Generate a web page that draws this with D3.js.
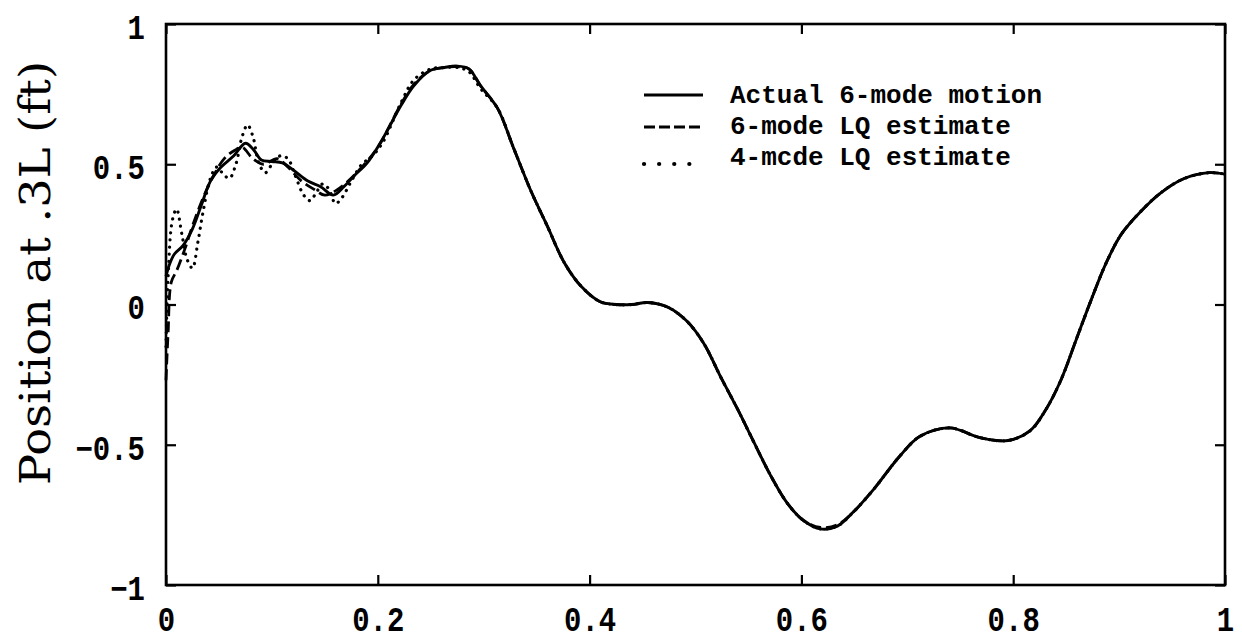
<!DOCTYPE html>
<html>
<head>
<meta charset="utf-8">
<script src="https://cdn.jsdelivr.net/npm/d3@7"></script>
<style>
  html, body { margin: 0; padding: 0; background: #fff; }
  svg { display: block; }
</style>
</head>
<body>
<svg id="chart" width="1242" height="641"></svg>
<script>
// Time axis (normalized) and beam position at .3L for the actual motion
const tActual = [0, 0.003, 0.008, 0.016, 0.025, 0.033, 0.042, 0.052, 0.064, 0.075, 0.083, 0.09, 0.1, 0.11, 0.12, 0.134, 0.146, 0.158, 0.168, 0.178, 0.19, 0.203, 0.222, 0.234, 0.25, 0.263, 0.275, 0.286, 0.297, 0.313, 0.328, 0.344, 0.36, 0.376, 0.392, 0.41, 0.425, 0.44, 0.455, 0.474, 0.492, 0.508, 0.524, 0.54, 0.555, 0.571, 0.587, 0.602, 0.618, 0.634, 0.649, 0.668, 0.693, 0.712, 0.74, 0.769, 0.795, 0.816, 0.83, 0.845, 0.86, 0.874, 0.888, 0.902, 0.92, 0.94, 0.962, 0.985, 1.0];
const vActual = [0.10, 0.14, 0.18, 0.21, 0.27, 0.35, 0.44, 0.49, 0.53, 0.575, 0.55, 0.515, 0.51, 0.505, 0.48, 0.44, 0.42, 0.39, 0.42, 0.46, 0.505, 0.58, 0.71, 0.78, 0.835, 0.845, 0.85, 0.84, 0.78, 0.70, 0.56, 0.41, 0.28, 0.15, 0.065, 0.01, 0.0, 0.0, 0.007, -0.01, -0.06, -0.14, -0.26, -0.375, -0.49, -0.61, -0.71, -0.77, -0.80, -0.79, -0.74, -0.66, -0.54, -0.47, -0.44, -0.475, -0.485, -0.45, -0.38, -0.27, -0.12, 0.02, 0.15, 0.25, 0.33, 0.40, 0.45, 0.47, 0.465];

// 6-mode LQ estimate
const tLQ6 = [0, 0.002, 0.005, 0.01, 0.018, 0.025, 0.035, 0.045, 0.055, 0.065, 0.072, 0.082, 0.092, 0.105, 0.115, 0.128, 0.14, 0.15, 0.16, 0.172, 0.185, 0.2, 0.222, 0.234, 0.25, 0.263, 0.275, 0.286, 0.297, 0.313, 0.328, 0.344, 0.36, 0.376, 0.392, 0.41, 0.425, 0.44, 0.455, 0.474, 0.492, 0.508, 0.524, 0.54, 0.555, 0.571, 0.587, 0.602, 0.618, 0.634, 0.649, 0.668, 0.693, 0.712, 0.74, 0.769, 0.795, 0.816, 0.83, 0.845, 0.86, 0.874, 0.888, 0.902, 0.92, 0.94, 0.962, 0.985, 1.0];
const vLQ6 = [-0.27, -0.1, 0.08, 0.12, 0.2, 0.28, 0.38, 0.46, 0.52, 0.55, 0.56, 0.52, 0.50, 0.52, 0.49, 0.44, 0.41, 0.39, 0.405, 0.44, 0.49, 0.56, 0.715, 0.785, 0.835, 0.845, 0.848, 0.84, 0.78, 0.70, 0.56, 0.41, 0.28, 0.15, 0.065, 0.01, 0.0, 0.0, 0.007, -0.01, -0.06, -0.14, -0.26, -0.375, -0.49, -0.61, -0.71, -0.77, -0.795, -0.785, -0.74, -0.66, -0.54, -0.47, -0.44, -0.475, -0.485, -0.45, -0.38, -0.27, -0.12, 0.02, 0.15, 0.25, 0.33, 0.40, 0.45, 0.47, 0.465];

// 4-mode LQ estimate
const tLQ4 = [0, 0.002, 0.006, 0.01, 0.015, 0.02, 0.025, 0.03, 0.035, 0.042, 0.048, 0.055, 0.06, 0.066, 0.072, 0.077, 0.082, 0.088, 0.094, 0.1, 0.108, 0.115, 0.122, 0.13, 0.136, 0.142, 0.148, 0.154, 0.16, 0.166, 0.175, 0.185, 0.195, 0.205, 0.222, 0.234, 0.25, 0.263, 0.275, 0.286, 0.297, 0.313, 0.328, 0.344, 0.36, 0.376, 0.392, 0.41, 0.425, 0.44, 0.455, 0.474, 0.492, 0.508, 0.524, 0.54, 0.555, 0.571, 0.587, 0.602, 0.618, 0.634, 0.649, 0.668, 0.693, 0.712, 0.74, 0.769, 0.795, 0.816, 0.83, 0.845, 0.86, 0.874, 0.888, 0.902, 0.92, 0.94, 0.962, 0.985, 1.0];
const vLQ4 = [-0.15, 0.1, 0.3, 0.34, 0.25, 0.16, 0.13, 0.22, 0.33, 0.45, 0.49, 0.46, 0.45, 0.5, 0.6, 0.64, 0.6, 0.5, 0.47, 0.5, 0.53, 0.52, 0.46, 0.39, 0.37, 0.4, 0.43, 0.41, 0.36, 0.38, 0.44, 0.5, 0.53, 0.58, 0.72, 0.8, 0.84, 0.845, 0.845, 0.83, 0.77, 0.70, 0.56, 0.41, 0.28, 0.15, 0.065, 0.01, 0.0, 0.0, 0.007, -0.01, -0.06, -0.14, -0.26, -0.375, -0.49, -0.61, -0.71, -0.77, -0.80, -0.79, -0.74, -0.66, -0.54, -0.47, -0.44, -0.475, -0.485, -0.45, -0.38, -0.27, -0.12, 0.02, 0.15, 0.25, 0.33, 0.40, 0.45, 0.47, 0.465];

// Axis ticks and labels
const xTicks = [0, 0.2, 0.4, 0.6, 0.8, 1];
const xTickLabels = ["0", "0.2", "0.4", "0.6", "0.8", "1"];
const yTicks = [-1, -0.5, 0, 0.5, 1];
const yTickLabels = ["\u22121", "\u22120.5", "0", "0.5", "1"];

// Legend entries
const legendLabels = ["Actual 6-mode motion", "6-mode LQ estimate", "4-mcde LQ estimate"];
const yLabel = "Position at .3L (ft)";

const svg = d3.select("#chart");
const plot = { left: 166, right: 1225, top: 24, bottom: 585 };

const x = d3.scaleLinear().domain([0, 1]).range([plot.left, plot.right]);
const y = d3.scaleLinear().domain([-1, 1]).range([plot.bottom, plot.top]);

const tickFont = "'Liberation Mono', 'DejaVu Sans Mono', monospace";
const stretch = 1.18; // tall, narrow glyphs of the typewriter face

// ticks on all four sides, pointing inward
function styleAxis(g) {
  g.select(".domain").remove();
  g.selectAll(".tick line").attr("stroke", "#000").attr("stroke-width", 2.2);
  g.selectAll("text")
    .attr("fill", "#000")
    .style("font-family", tickFont)
    .style("font-size", "29px")
    .style("font-weight", "bold");
}

svg.append("g")
  .attr("transform", `translate(0,${plot.bottom})`)
  .call(d3.axisBottom(x).tickValues(xTicks).tickSize(-10)
    .tickFormat((d, i) => xTickLabels[i]))
  .call(styleAxis)
  .call(g => g.selectAll(".tick text")
    .attr("y", 0).attr("dy", "0.36em")
    .attr("transform", `translate(0,34) scale(1,${stretch})`));

svg.append("g")
  .attr("transform", `translate(0,${plot.top})`)
  .call(d3.axisTop(x).tickValues(xTicks).tickSize(-10).tickFormat(""))
  .call(styleAxis);

svg.append("g")
  .attr("transform", `translate(${plot.left},0)`)
  .call(d3.axisLeft(y).tickValues(yTicks).tickSize(-10)
    .tickFormat((d, i) => yTickLabels[i]))
  .call(styleAxis)
  .call(g => g.selectAll(".tick text")
    .attr("x", 0).attr("dy", "0.36em")
    .attr("transform", `translate(-21,2) scale(1,${stretch})`));

svg.append("g")
  .attr("transform", `translate(${plot.right},0)`)
  .call(d3.axisRight(y).tickValues(yTicks).tickSize(-10).tickFormat(""))
  .call(styleAxis);

// frame
svg.append("rect")
  .attr("x", plot.left).attr("y", plot.top)
  .attr("width", plot.right - plot.left).attr("height", plot.bottom - plot.top)
  .attr("fill", "none").attr("stroke", "#000").attr("stroke-width", 2.6);

const line = d3.line()
  .x(d => x(d[0]))
  .y(d => y(d[1]))
  .curve(d3.curveCatmullRom.alpha(0.5));

const zip = (ts, vs) => ts.map((t, i) => [t, vs[i]]);

const series = [
  { t: tLQ4, v: vLQ4, dash: "0.1 7", width: 3.2, cap: "round" },
  { t: tLQ6, v: vLQ6, dash: "11 5", width: 2.8, cap: "butt" },
  { t: tActual, v: vActual, dash: null, width: 2.9, cap: "butt" }
];

svg.append("g").selectAll("path")
  .data(series)
  .join("path")
  .attr("d", d => line(zip(d.t, d.v)))
  .attr("fill", "none")
  .attr("stroke", "#000")
  .attr("stroke-width", d => d.width)
  .attr("stroke-linecap", d => d.cap)
  .attr("stroke-linejoin", "round")
  .attr("stroke-dasharray", d => d.dash);

// legend
const legendRows = [
  { y: 94, dash: null, width: 2.8, cap: "butt", lineY: 95 },
  { y: 125, dash: "11 4", width: 3, cap: "butt", lineY: 127 },
  { y: 156, dash: "0.1 15", width: 4.2, cap: "round", lineY: 164 }
];
const legend = svg.append("g");
legendRows.forEach((r, i) => {
  legend.append("line")
    .attr("x1", 644).attr("x2", 703)
    .attr("y1", r.lineY).attr("y2", r.lineY)
    .attr("stroke", "#000")
    .attr("stroke-width", r.width)
    .attr("stroke-linecap", r.cap)
    .attr("stroke-dasharray", r.dash);
  legend.append("text")
    .attr("x", 730).attr("y", r.y)
    .attr("dy", "0.36em")
    .style("font-family", tickFont)
    .style("font-size", "26px")
    .style("font-weight", "bold")
    .attr("fill", "#000")
    .text(legendLabels[i]);
});

// y-axis title
svg.append("text")
  .attr("transform", `translate(50,273) rotate(-90)`)
  .attr("text-anchor", "middle")
  .style("font-family", "'DejaVu Serif', serif")
  .style("font-size", "42px")
  .attr("textLength", 424)
  .attr("lengthAdjust", "spacingAndGlyphs")
  .attr("fill", "#000")
  .text(yLabel);
</script>
</body>
</html>
